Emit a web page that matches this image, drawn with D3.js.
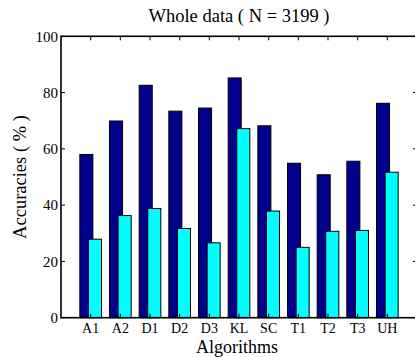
<!DOCTYPE html>
<html>
<head>
<meta charset="utf-8">
<script src="https://cdn.jsdelivr.net/npm/d3@7"></script>
<style>
  html, body { margin: 0; padding: 0; background: #fff; }
  svg { display: block; }
  text { font-family: "Liberation Serif", "Times New Roman", serif; fill: #000; }
</style>
</head>
<body>
<div id="chart"></div>
<script>
// data
const algorithms = ["A1", "A2", "D1", "D2", "D3", "KL", "SC", "T1", "T2", "T3", "UH"];
const seriesA = [58.0, 69.9, 82.6, 73.4, 74.5, 85.2, 68.2, 54.9, 50.8, 55.6, 76.2];
const seriesB = [27.9, 36.3, 38.8, 31.7, 26.6, 67.2, 37.9, 25.0, 30.7, 31.0, 51.7];
const yTicks = [0, 20, 40, 60, 80, 100];

const width = 415, height = 357;
const plot = { left: 61, right: 417, top: 36.3, bottom: 317.7 };

const svg = d3.select("#chart").append("svg")
    .attr("width", width)
    .attr("height", height);

// matlab style x axis: 0..n+1
const x = d3.scaleLinear()
    .domain([0, algorithms.length + 1])
    .range([plot.left, plot.right]);

const y = d3.scaleLinear()
    .domain([0, 100])
    .range([plot.bottom, plot.top]);

const step = x(1) - x(0);
const barW = step * 0.44;
const offs = step * 0.145;

const g = svg.append("g");

// dark series first, cyan drawn on top
g.selectAll(".barA")
    .data(seriesA)
    .enter()
    .append("rect")
    .attr("class", "barA")
    .attr("x", (d, i) => x(i + 1) - offs - barW / 2)
    .attr("y", d => y(d))
    .attr("width", barW)
    .attr("height", d => y(0) - y(d))
    .attr("fill", "#00008c")
    .attr("stroke", "#000")
    .attr("stroke-width", 1);

g.selectAll(".barB")
    .data(seriesB)
    .enter()
    .append("rect")
    .attr("class", "barB")
    .attr("x", (d, i) => x(i + 1) + offs - barW / 2)
    .attr("y", d => y(d))
    .attr("width", barW)
    .attr("height", d => y(0) - y(d))
    .attr("fill", "#00ffff")
    .attr("stroke", "#000")
    .attr("stroke-width", 1);

// box
const ax = svg.append("g");
ax.append("rect")
    .attr("x", plot.left)
    .attr("y", plot.top)
    .attr("width", plot.right - plot.left)
    .attr("height", plot.bottom - plot.top)
    .attr("fill", "none")
    .attr("stroke", "#000")
    .attr("stroke-width", 1.6);

// ticks pointing inward
const tl = 4;
ax.selectAll(".ytickL")
    .data(yTicks)
    .enter()
    .append("line")
    .attr("x1", plot.left).attr("x2", plot.left + tl)
    .attr("y1", d => y(d)).attr("y2", d => y(d))
    .attr("stroke", "#000");

ax.selectAll(".ytickR")
    .data(yTicks)
    .enter()
    .append("line")
    .attr("x1", plot.right).attr("x2", plot.right - tl)
    .attr("y1", d => y(d)).attr("y2", d => y(d))
    .attr("stroke", "#000");

ax.selectAll(".xtickT")
    .data(algorithms)
    .enter()
    .append("line")
    .attr("x1", (d, i) => x(i + 1)).attr("x2", (d, i) => x(i + 1))
    .attr("y1", plot.top).attr("y2", plot.top + tl)
    .attr("stroke", "#000");

ax.selectAll(".xtickB")
    .data(algorithms)
    .enter()
    .append("line")
    .attr("x1", (d, i) => x(i + 1)).attr("x2", (d, i) => x(i + 1))
    .attr("y1", plot.bottom).attr("y2", plot.bottom - tl)
    .attr("stroke", "#000");

// tick labels
ax.selectAll(".ylab")
    .data(yTicks)
    .enter()
    .append("text")
    .attr("x", plot.left - 3)
    .attr("y", d => y(d))
    .attr("dy", "0.35em")
    .attr("text-anchor", "end")
    .style("font-size", "15px")
    .text(d => d);

ax.selectAll(".xlab")
    .data(algorithms)
    .enter()
    .append("text")
    .attr("x", (d, i) => x(i + 1))
    .attr("y", 332.5)
    .attr("text-anchor", "middle")
    .style("font-size", "14px")
    .text(d => d);

// titles
svg.append("text")
    .attr("x", (plot.left + plot.right) / 2)
    .attr("y", 22)
    .attr("text-anchor", "middle")
    .style("font-size", "18.5px")
    .text("Whole data ( N = 3199 )");

svg.append("text")
    .attr("x", (plot.left + plot.right) / 2 - 2)
    .attr("y", 352.5)
    .attr("text-anchor", "middle")
    .style("font-size", "18px")
    .text("Algorithms");

svg.append("text")
    .attr("transform", `translate(26, ${(plot.top + plot.bottom) / 2}) rotate(-90)`)
    .attr("text-anchor", "middle")
    .style("font-size", "18.5px")
    .text("Accuracies ( % )");
</script>
</body>
</html>
